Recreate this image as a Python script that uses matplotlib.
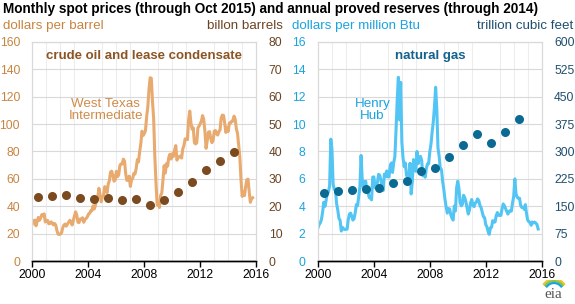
import numpy as np
import matplotlib
matplotlib.use("Agg")
import matplotlib.pyplot as plt
from matplotlib.patches import Arc

plt.rcParams['font.family'] = ['Liberation Sans', 'DejaVu Sans']

# ---------------- data ----------------
wti = [
    27.3, 29.4, 29.9, 25.7, 28.8, 31.8, 29.7, 31.3, 33.9, 33.1, 34.4, 28.5,
    29.6, 29.6, 27.2, 27.4, 28.6, 27.6, 26.4, 27.4, 26.2, 22.2, 19.6, 19.4,
    19.7, 20.7, 24.4, 26.3, 27.0, 25.5, 26.9, 28.4, 29.7, 28.9, 26.3, 29.4,
    32.9, 35.9, 33.6, 28.3, 28.1, 30.7, 30.8, 31.6, 28.3, 30.3, 31.1, 32.1,
    34.3, 34.7, 36.7, 36.7, 40.3, 38.0, 40.7, 44.9, 45.9, 53.1, 48.5, 43.3,
    46.8, 48.0, 54.3, 53.0, 49.8, 56.3, 58.7, 65.0, 65.6, 62.4, 58.3, 59.4,
    65.5, 61.6, 62.9, 69.7, 70.9, 70.9, 74.4, 73.0, 63.8, 58.9, 59.1, 62.0,
    54.5, 59.3, 60.4, 64.0, 63.5, 67.5, 74.1, 72.4, 79.9, 85.8, 94.8, 91.7,
    93.0, 95.4, 105.5, 112.6, 125.4, 133.9, 133.4, 116.7, 104.1, 76.6, 57.3, 41.1,
    41.7, 39.1, 47.9, 49.7, 59.0, 69.6, 64.2, 71.1, 69.4, 75.7, 78.0, 74.5,
    78.3, 76.4, 81.2, 84.3, 73.7, 75.3, 76.3, 76.6, 75.2, 81.9, 84.3, 89.2,
    89.2, 88.6, 102.9, 109.5, 100.9, 96.3, 97.3, 86.3, 85.5, 86.3, 97.2, 98.6,
    100.3, 102.2, 106.2, 103.3, 94.7, 82.3, 87.9, 94.1, 94.5, 89.5, 86.5, 87.9,
    94.8, 95.3, 92.9, 92.0, 94.5, 95.8, 104.6, 106.6, 106.3, 100.5, 93.9, 97.6,
    94.6, 100.8, 100.8, 102.1, 102.2, 105.8, 103.6, 96.5, 93.2, 84.4, 75.8, 59.3,
    47.2, 50.6, 47.8, 54.5, 59.3, 59.8, 50.9, 42.9, 45.5, 46.2,
]
henry_hub = [
    2.42, 2.66, 2.79, 3.04, 3.59, 4.29, 3.99, 4.43, 5.06, 5.02, 5.52, 8.90,
    8.17, 5.61, 5.23, 5.19, 4.19, 3.72, 3.11, 2.97, 2.19, 2.46, 2.34, 2.30,
    2.32, 2.32, 3.03, 3.43, 3.50, 3.26, 2.99, 3.09, 3.55, 4.13, 4.04, 4.74,
    5.43, 7.71, 5.93, 5.26, 5.81, 5.82, 5.03, 4.99, 4.62, 4.63, 4.47, 6.13,
    6.14, 5.37, 5.39, 5.71, 6.33, 6.27, 5.93, 5.41, 5.15, 6.35, 6.17, 6.58,
    6.15, 6.14, 6.96, 7.16, 6.47, 7.18, 7.63, 9.53, 11.75, 13.42, 10.30, 13.05,
    8.69, 7.54, 6.89, 7.16, 6.25, 6.21, 6.17, 7.14, 4.90, 5.85, 7.41, 6.73,
    6.55, 8.00, 7.11, 7.60, 7.64, 7.35, 6.22, 6.29, 6.12, 6.74, 7.10, 7.11,
    7.99, 8.54, 9.41, 10.18, 11.27, 12.69, 11.09, 8.26, 7.67, 6.74, 6.68, 5.82,
    5.24, 4.52, 3.96, 3.50, 3.83, 3.80, 3.38, 3.14, 2.99, 4.01, 3.66, 5.35,
    5.83, 5.32, 4.29, 4.03, 4.14, 4.80, 4.63, 4.32, 3.89, 3.43, 3.71, 4.25,
    4.49, 4.09, 3.97, 4.24, 4.31, 4.54, 4.42, 4.06, 3.90, 3.57, 3.24, 3.17,
    2.67, 2.50, 2.17, 1.95, 2.43, 2.46, 2.95, 2.84, 2.85, 3.32, 3.54, 3.34,
    3.33, 3.33, 3.81, 4.17, 4.04, 3.83, 3.62, 3.43, 3.62, 3.68, 3.64, 4.24,
    4.71, 6.00, 4.90, 4.66, 4.58, 4.59, 4.05, 3.91, 3.92, 3.78, 4.12, 3.48,
    2.99, 2.87, 2.83, 2.61, 2.85, 2.78, 2.84, 2.77, 2.66, 2.34,
]
reserve_years = list(range(2000, 2015))
oil_reserves = [23.5, 23.8, 24.0, 23.1, 22.6, 23.0, 22.3, 22.8, 20.6, 22.3,
                25.2, 29.0, 33.4, 36.5, 39.9]
gas_reserves = [186.5, 191.7, 195.6, 197.6, 201.2, 213.3, 220.4, 247.8, 255.0,
                283.9, 317.6, 348.8, 322.7, 354.0, 388.8]

x_ticks = [2000, 2004, 2008, 2012, 2016]

# ---------------- figure ----------------
fig = plt.figure(figsize=(5.75, 3.04), dpi=100)
fig.patch.set_facecolor('white')

months = 2000 + np.arange(len(wti)) / 12.0
months_g = 2000 + np.arange(len(henry_hub)) / 12.0
res_x = np.array(reserve_years) + 0.4


def setup(ax, ax2, ylim, yticks, ylim2, yticks2, lc, rc):
    ax.set_xlim(2000, 2016)
    ax.set_ylim(*ylim)
    ax.set_yticks(yticks)
    ax2.set_ylim(*ylim2)
    ax2.set_yticks(yticks2)
    ax.set_xticks(x_ticks)
    ax.set_xticks(np.arange(2000, 2017, 1), minor=True)
    ax.grid(True, which='minor', axis='x', color='#EDEDED', lw=0.8)
    ax.grid(True, which='major', axis='y', color='#D9D9D9', lw=0.8)
    ax.set_axisbelow(True)
    for a in (ax, ax2):
        for s in ('top', 'left', 'right'):
            a.spines[s].set_color('#D9D9D9')
            a.spines[s].set_linewidth(0.8)
        a.spines['bottom'].set_color('black')
        a.spines['bottom'].set_linewidth(1.0)
    ax.tick_params(axis='x', which='major', length=4, width=1, direction='out',
                   labelsize=8.7, pad=2, colors='black')
    ax.tick_params(axis='x', which='minor', length=0)
    ax.tick_params(axis='y', length=0, labelsize=8.7, labelcolor=lc, pad=9)
    ax2.tick_params(axis='y', length=0, labelsize=8.7, labelcolor=rc, pad=9)
    ax2.set_zorder(ax.get_zorder() + 1)
    ax2.patch.set_visible(False)


# ---- left: crude oil ----
ax1 = fig.add_axes([0.0565, 0.1414, 0.389, 0.7206])
ax1b = ax1.twinx()
setup(ax1, ax1b, (0, 160), range(0, 161, 20), (0, 80), range(0, 81, 10),
      '#C8843F', '#6B4423')
ax1.plot(months, wti, color='#E8AA6E', lw=2.2, solid_joinstyle='round')
ax1b.plot(res_x, oil_reserves, 'o', color='#7B4A1E', ms=6.5, mec='none')
ax1.text(0.5, 0.935, 'crude oil and lease condensate', transform=ax1.transAxes,
         ha='center', va='center', fontsize=9.5, fontweight='bold', color='#8B5524')
ax1.text(2005.25, 110, 'West Texas\nIntermediate', ha='center', va='center',
         fontsize=9.6, color='#D08B4A', linespacing=1.0)

# ---- right: natural gas ----
ax2 = fig.add_axes([0.553, 0.1414, 0.389, 0.7206])
ax2b = ax2.twinx()
setup(ax2, ax2b, (0, 16), range(0, 17, 2), (0, 600), range(0, 601, 75),
      '#1AA3E0', '#1F4E6E')
ax2.plot(months_g, henry_hub, color='#52C5F5', lw=2.2, solid_joinstyle='round')
ax2b.plot(res_x, gas_reserves, 'o', color='#0B6A93', ms=6.5, mec='none')
ax2.text(0.5, 0.935, 'natural gas', transform=ax2.transAxes,
         ha='center', va='center', fontsize=9.5, fontweight='bold', color='#14628C')
ax2.text(2003.9, 11.0, 'Henry\nHub', ha='center', va='center',
         fontsize=9.6, color='#1AA3E0', linespacing=1.0)

# ---- figure texts ----
fig.text(3 / 575, 1 - 9 / 304,
         'Monthly spot prices (through Oct 2015) and annual proved reserves (through 2014)',
         ha='left', va='center', fontsize=9.8, fontweight='bold', color='black')
fig.text(3 / 575, 1 - 26 / 304, 'dollars per barrel', ha='left', va='center',
         fontsize=9.6, color='#C8843F')
fig.text(283 / 575, 1 - 26 / 304, 'billon barrels', ha='right', va='center',
         fontsize=9.6, color='#6B4423')
fig.text(292 / 575, 1 - 26 / 304, 'dollars per million Btu', ha='left', va='center',
         fontsize=9.6, color='#1AA3E0')
fig.text(573 / 575, 1 - 26 / 304, 'trillion cubic feet', ha='right', va='center',
         fontsize=9.6, color='#1F4E6E')

# eia logo
fig.text(553 / 575, 1 - 294 / 304, 'eia', ha='center', va='center', fontsize=11,
         family=['Liberation Serif', 'DejaVu Serif'], color='#555555')
lax = fig.add_axes([535 / 575, 1 - 292 / 304, 36 / 575, 12 / 304])
lax.set_xlim(0, 36)
lax.set_ylim(0, 12)
lax.axis('off')
for r, c in ((15, '#F2C12E'), (13, '#8CC63F'), (11, '#1AA3E0')):
    lax.add_patch(Arc((19, -2), 2 * r * 0.9, 2 * r, theta1=40, theta2=140,
                      color=c, lw=1.6))

fig.savefig('out.png', dpi=100)
